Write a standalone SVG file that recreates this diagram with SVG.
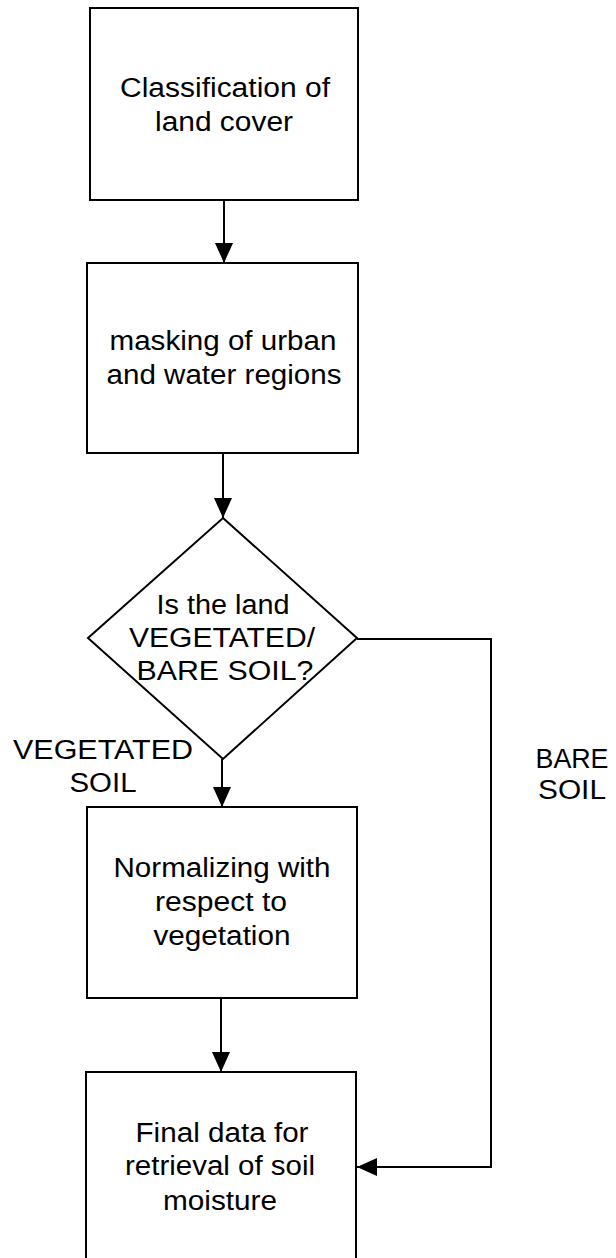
<svg xmlns="http://www.w3.org/2000/svg" width="616" height="1258" viewBox="0 0 616 1258">
<style>
.box{fill:#fff;stroke:#000;stroke-width:2}
.t{font-family:"Liberation Sans",Arial,sans-serif;font-size:27px;fill:#000;text-anchor:middle}
.c{fill:none;stroke:#000;stroke-width:2}
</style>
<defs>
<marker id="ah" viewBox="0 0 20 20" refX="20" refY="10" markerWidth="20" markerHeight="20" markerUnits="userSpaceOnUse" orient="auto">
<path d="M0,1 L20,10 L0,19 z" fill="#000"/>
</marker>
</defs>
<rect width="616" height="1258" fill="#fff"/>
<g id="n1">
<rect class="box" x="90" y="8" width="268" height="192"/>
<text class="t" x="225" y="97" textLength="210" lengthAdjust="spacingAndGlyphs">Classification of</text>
<text class="t" x="224" y="131" textLength="138" lengthAdjust="spacingAndGlyphs">land cover</text>
</g>
<g id="n2">
<rect class="box" x="87" y="263" width="271" height="190"/>
<text class="t" x="223" y="350" textLength="227" lengthAdjust="spacingAndGlyphs">masking of urban</text>
<text class="t" x="224" y="384" textLength="235" lengthAdjust="spacingAndGlyphs">and water regions</text>
</g>
<g id="n3">
<polygon class="box" points="223,518 357,638 223,759 88,638"/>
<text class="t" x="223" y="614" textLength="133" lengthAdjust="spacingAndGlyphs">Is the land</text>
<text class="t" x="222" y="647" textLength="186" lengthAdjust="spacingAndGlyphs">VEGETATED/</text>
<text class="t" x="225" y="680" textLength="177" lengthAdjust="spacingAndGlyphs">BARE SOIL?</text>
</g>
<g id="n4">
<rect class="box" x="87" y="807" width="270" height="191"/>
<text class="t" x="222" y="877" textLength="217" lengthAdjust="spacingAndGlyphs">Normalizing with</text>
<text class="t" x="221" y="911" textLength="132" lengthAdjust="spacingAndGlyphs">respect to</text>
<text class="t" x="222" y="945" textLength="137" lengthAdjust="spacingAndGlyphs">vegetation</text>
</g>
<g id="n5">
<rect class="box" x="86" y="1072" width="270" height="200"/>
<text class="t" x="222" y="1142" textLength="173" lengthAdjust="spacingAndGlyphs">Final data for</text>
<text class="t" x="220" y="1175" textLength="190" lengthAdjust="spacingAndGlyphs">retrieval of soil</text>
<text class="t" x="220" y="1210" textLength="114" lengthAdjust="spacingAndGlyphs">moisture</text>
</g>
<g id="connectors">
<line class="c" x1="224" y1="200" x2="224" y2="263" marker-end="url(#ah)"/>
<line class="c" x1="223" y1="453" x2="223" y2="518" marker-end="url(#ah)"/>
<line class="c" x1="222" y1="759" x2="222" y2="807" marker-end="url(#ah)"/>
<line class="c" x1="221" y1="998" x2="221" y2="1072" marker-end="url(#ah)"/>
<polyline class="c" points="357,639 491,639 491,1167 357,1167" marker-end="url(#ah)"/>
</g>
<g id="labels">
<text class="t" x="103" y="759" textLength="180" lengthAdjust="spacingAndGlyphs">VEGETATED</text>
<text class="t" x="103" y="792" textLength="67" lengthAdjust="spacingAndGlyphs">SOIL</text>
<text class="t" x="572" y="768" textLength="73" lengthAdjust="spacingAndGlyphs">BARE</text>
<text class="t" x="572" y="799" textLength="68" lengthAdjust="spacingAndGlyphs">SOIL</text>
</g>
</svg>
